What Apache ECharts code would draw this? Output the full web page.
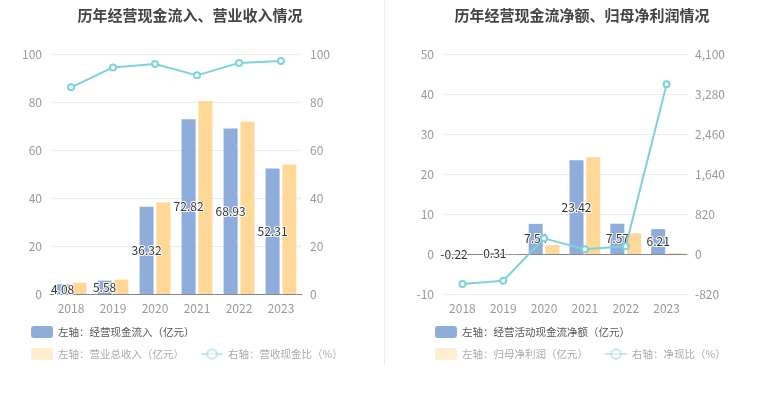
<!DOCTYPE html>
<html><head><meta charset="utf-8">
<script src="https://cdn.jsdelivr.net/npm/echarts@6/dist/echarts.min.js"></script>
<style>html,body{margin:0;padding:0;background:#fff}#c{width:765px;height:393px}</style>
</head><body><div id="c"></div>
<script>
const years = ['2018','2019','2020','2021','2022','2023'];
const cashInflow = [4.08, 5.58, 36.32, 72.82, 68.93, 52.31];
const revenue = [4.7, 6.0, 38.1, 80.4, 71.8, 54.0];
const revCashRatio = [86.1, 94.4, 95.8, 91.1, 96.3, 97.1];
const netCashFlow = [-0.22, 0.31, 7.54, 23.42, 7.57, 6.21];
const netProfit = [0.04, -0.06, 2.25, 24.2, 5.17, 0.18];
const netCashRatio = [-615, -547, 321, 96, 157, 3478];

const blue = '#8eaddb', orange = '#ffd796', teal = '#7dd3d8';
const ff = 'Noto Sans CJK SC';
const axisLbl = {color:'#999', fontSize:12, fontFamily:ff};
const splitL = {lineStyle:{color:'#e8ecf4'}};
const barLabel = {show:true, position:'inside', color:'#333', fontSize:12, textBorderColor:'#fff', textBorderWidth:2, fontFamily:ff};
const legBase = {itemWidth:22, itemHeight:12, itemGap:16, width:340, orient:'horizontal'};

const chart = echarts.init(document.getElementById('c'));
chart.setOption({
  animation:false,
  title:[
    {text:'历年经营现金流入、营业收入情况', left:185, top:3, textAlign:'center', textStyle:{fontSize:15, fontWeight:'bold', color:'#444', fontFamily:ff}},
    {text:'历年经营现金流净额、归母净利润情况', left:577, top:3, textAlign:'center', textStyle:{fontSize:15, fontWeight:'bold', color:'#444', fontFamily:ff}}
  ],
  graphic:[{type:'line', shape:{x1:384.5,y1:0,x2:384.5,y2:365}, style:{stroke:'#eee', lineWidth:1}}],
  legend:[
    Object.assign({data:['左轴：经营现金流入（亿元）'], left:26, top:321, textStyle:{color:'#555', fontSize:10.5, fontFamily:ff}}, legBase),
    Object.assign({data:[{name:'左轴：营业总收入（亿元）', itemStyle:{opacity:0.45}}, {name:'右轴：营收现金比（%）', itemStyle:{opacity:0.45}, lineStyle:{opacity:0.45}}], left:26, top:343, textStyle:{color:'#aaa', fontSize:10.5, fontFamily:ff}}, legBase),
    Object.assign({data:['左轴：经营活动现金流净额（亿元）'], left:430, top:321, textStyle:{color:'#555', fontSize:10.5, fontFamily:ff}}, legBase),
    Object.assign({data:[{name:'左轴：归母净利润（亿元）', itemStyle:{opacity:0.45}}, {name:'右轴：净现比（%）', itemStyle:{opacity:0.45}, lineStyle:{opacity:0.45}}], left:430, top:343, textStyle:{color:'#aaa', fontSize:10.5, fontFamily:ff}}, legBase)
  ],
  grid:[
    {left:50, right:463, top:54, bottom:99},
    {left:442, right:78, top:54, bottom:99}
  ],
  xAxis:[
    {type:'category', gridIndex:0, data:years, axisLabel:axisLbl, axisTick:{alignWithLabel:true, lineStyle:{color:'#888'}}, axisLine:{lineStyle:{color:'#888'}}},
    {type:'category', gridIndex:1, data:years, axisLabel:axisLbl, axisTick:{alignWithLabel:true, lineStyle:{color:'#888'}}, axisLine:{onZero:true, lineStyle:{color:'#888'}}}
  ],
  yAxis:[
    {type:'value', gridIndex:0, min:0, max:100, interval:20, axisLabel:axisLbl, splitLine:splitL, axisLine:{show:false}, axisTick:{show:false}},
    {type:'value', gridIndex:0, min:0, max:100, interval:20, position:'right', axisLabel:axisLbl, splitLine:{show:false}, axisLine:{show:false}, axisTick:{show:false}},
    {type:'value', gridIndex:1, min:-10, max:50, interval:10, axisLabel:axisLbl, splitLine:splitL, axisLine:{show:false}, axisTick:{show:false}},
    {type:'value', gridIndex:1, min:-820, max:4100, interval:820, position:'right', axisLabel:Object.assign({}, axisLbl, {formatter:v=>v.toLocaleString('en-US')}), splitLine:{show:false}, axisLine:{show:false}, axisTick:{show:false}}
  ],
  series:[
    {name:'左轴：经营现金流入（亿元）', type:'bar', xAxisIndex:0, yAxisIndex:0, data:cashInflow, barWidth:14, barGap:'20%', itemStyle:{color:blue}, label:barLabel},
    {name:'左轴：营业总收入（亿元）', type:'bar', xAxisIndex:0, yAxisIndex:0, data:revenue, barWidth:14, barGap:'20%', itemStyle:{color:orange}},
    {name:'右轴：营收现金比（%）', type:'line', xAxisIndex:0, yAxisIndex:1, data:revCashRatio, symbol:'emptyCircle', symbolSize:6, lineStyle:{color:teal, width:2}, itemStyle:{color:teal}},
    {name:'左轴：经营活动现金流净额（亿元）', type:'bar', xAxisIndex:1, yAxisIndex:2, data:netCashFlow, barWidth:14, barGap:'20%', itemStyle:{color:blue}, label:barLabel},
    {name:'左轴：归母净利润（亿元）', type:'bar', xAxisIndex:1, yAxisIndex:2, data:netProfit, barWidth:14, barGap:'20%', itemStyle:{color:orange}},
    {name:'右轴：净现比（%）', type:'line', xAxisIndex:1, yAxisIndex:3, data:netCashRatio, symbol:'emptyCircle', symbolSize:6, lineStyle:{color:teal, width:2}, itemStyle:{color:teal}}
  ]
});
</script></body></html>
